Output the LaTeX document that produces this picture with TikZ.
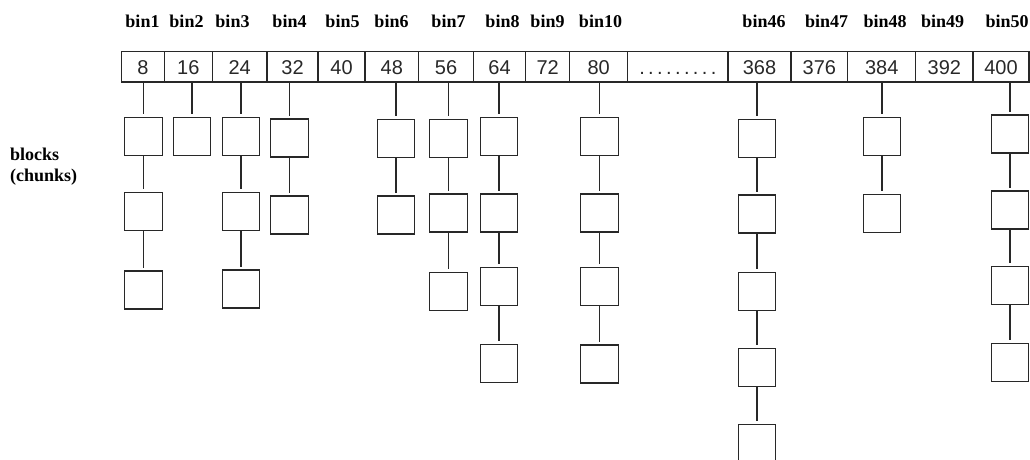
\documentclass[tikz,border=0pt]{standalone}
\usepackage{fontspec}
\setmainfont{Liberation Serif}
\newfontfamily\numfont{Liberation Sans}
\definecolor{ink}{RGB}{40,40,40}
\begin{document}
\begin{tikzpicture}[x=1pt,y=-1pt,
  cell/.style={draw=ink, line width=1.3pt, minimum height=30.5pt, inner sep=0pt,
    text height=14.5pt, text depth=0pt, text=ink, font=\numfont\fontsize{20}{20}\selectfont},
  chunk/.style={draw=ink, line width=1.3pt, minimum width=37.5pt, minimum height=38pt, inner sep=0pt},
  link/.style={draw=ink, line width=1.3pt, shorten >=2.5pt},
  binlabel/.style={anchor=base, inner sep=0pt, font=\bfseries\fontsize{18}{20}\selectfont},
  sidelabel/.style={anchor=base west, inner sep=0pt, font=\bfseries\fontsize{18}{20}\selectfont}]
\useasboundingbox (0,0) rectangle (1030,459);

% header cells
\node[cell, minimum width=42.6pt]  (c8)   at (143,66.75)    {8};
\node[cell, minimum width=48pt]    (c16)  at (188.3,66.75)  {16};
\node[cell, minimum width=54.7pt]  (c24)  at (239.65,66.75) {24};
\node[cell, minimum width=51pt]    (c32)  at (292.5,66.75)  {32};
\node[cell, minimum width=47pt]    (c40)  at (341.5,66.75)  {40};
\node[cell, minimum width=53.7pt]  (c48)  at (391.85,66.75) {48};
\node[cell, minimum width=54.6pt]  (c56)  at (446,66.75)    {56};
\node[cell, minimum width=52.4pt]  (c64)  at (499.5,66.75)  {64};
\node[cell, minimum width=44pt]    (c72)  at (547.7,66.75)  {72};
\node[cell, minimum width=58pt]    (c80)  at (598.7,66.75)  {80};
\node[cell, minimum width=100.3pt] (cdots) at (677.85,66.75)
  {.\kern3.4pt.\kern3.4pt.\kern3.4pt.\kern3.4pt.\kern3.4pt.\kern3.4pt.\kern3.4pt.\kern3.4pt.};
\node[cell, minimum width=63pt]    (c368) at (759.5,66.75)  {368};
\node[cell, minimum width=56.7pt]  (c376) at (819.35,66.75) {376};
\node[cell, minimum width=68pt]    (c384) at (881.7,66.75)  {384};
\node[cell, minimum width=57.3pt]  (c392) at (944.35,66.75) {392};
\node[cell, minimum width=56pt]    (c400) at (1001,66.75)   {400};

% bin labels
\node[binlabel] (l1)  at (142.5,27.7) {bin1};
\node[binlabel] (l2)  at (186.5,27.7) {bin2};
\node[binlabel] (l3)  at (232.5,27.7) {bin3};
\node[binlabel] (l4)  at (289.5,27.7) {bin4};
\node[binlabel] (l5)  at (342.5,27.7) {bin5};
\node[binlabel] (l6)  at (391.5,27.7) {bin6};
\node[binlabel] (l7)  at (448.5,27.7) {bin7};
\node[binlabel] (l8)  at (502.5,27.7) {bin8};
\node[binlabel] (l9)  at (547.5,27.7) {bin9};
\node[binlabel] (l10) at (600.5,27.7) {bin10};
\node[binlabel] (l46) at (764,27.7)   {bin46};
\node[binlabel] (l47) at (826.5,27.7) {bin47};
\node[binlabel] (l48) at (885,27.7)   {bin48};
\node[binlabel] (l49) at (942.5,27.7) {bin49};
\node[binlabel] (l50) at (1007,27.7)  {bin50};

% side label
\node[sidelabel] (side1) at (10,160)   {blocks};
\node[sidelabel] (side2) at (10,181.7) {(chunks)};

% chains of chunks
\foreach \cell/\x/\tops in {
  8/143.5/{117.5,192.5,271},
  16/192/{117.5},
  24/241/{117.5,192.5,270},
  32/289.5/{119,196},
  48/396/{119.5,196},
  56/448.5/{119.5,194,272.5},
  64/499/{117.5,194,267.5,344.5},
  80/599.5/{117.5,194,267.5,345},
  368/757/{119.5,195,272.5,348.5,424.5},
  384/882/{117.5,194.5},
  400/1010/{115,191,266.5,343.5}}{
  \foreach \t [count=\i, remember=\i as \lasti (initially 0)] in \tops {
    \node[chunk] (k\cell-\i) at (\x,{\t+19}) {};
    \ifnum\lasti=0
      \draw[link] (c\cell.south -| k\cell-\i.north) -- (k\cell-\i.north);
    \else
      \draw[link] (k\cell-\lasti.south) -- (k\cell-\i.north);
    \fi
  }
}
\end{tikzpicture}
\end{document}
